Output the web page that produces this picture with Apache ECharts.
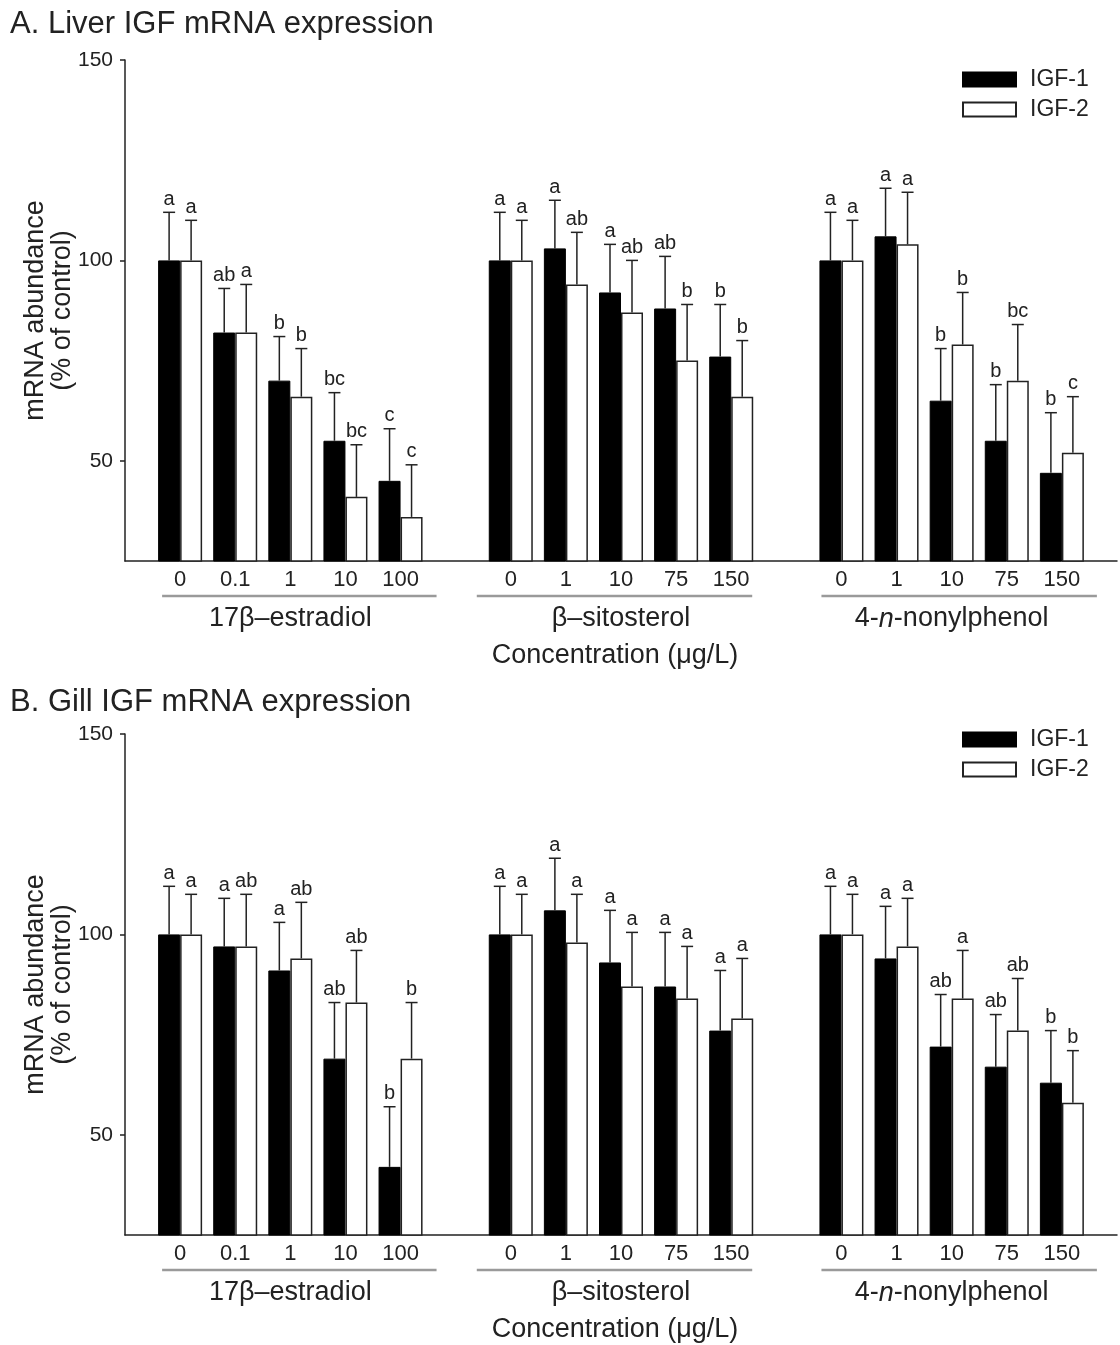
<!DOCTYPE html>
<html>
<head>
<meta charset="utf-8">
<script src="https://cdn.jsdelivr.net/npm/echarts@6/dist/echarts.min.js"></script>
<style>
html,body{margin:0;padding:0;background:#fff;}
#chart{width:1120px;height:1345px;}
</style>
</head>
<body>
<div id="chart"></div>
<script>
// ---------------- DATA ----------------
const estradiolDoses = ['0', '0.1', '1', '10', '100'];
const sitosterolDoses = ['0', '1', '10', '75', '150'];
const nonylphenolDoses = ['0', '1', '10', '75', '150'];
const compoundNames = ['17β–estradiol', 'β–sitosterol', '4-{i|n}-nonylphenol'];
const seriesNames = ['IGF-1', 'IGF-2'];
const yTickValues = [50, 100, 150];

// A. Liver
const liverIGF1 = [100, 82, 70, 55, 45, 100, 103, 92, 88, 76, 100, 106, 65, 55, 47];
const liverIGF1Err = [12, 11, 11, 12, 13, 12, 12, 12, 13, 13, 12, 12, 13, 14, 15];
const liverIGF1Letters = ['a', 'ab', 'b', 'bc', 'c', 'a', 'a', 'a', 'ab', 'b', 'a', 'a', 'b', 'b', 'b'];
const liverIGF2 = [100, 82, 66, 41, 36, 100, 94, 87, 75, 66, 100, 104, 79, 70, 52];
const liverIGF2Err = [10, 12, 12, 13, 13, 10, 13, 13, 14, 14, 10, 13, 13, 14, 14];
const liverIGF2Letters = ['a', 'a', 'b', 'bc', 'c', 'a', 'ab', 'ab', 'b', 'b', 'a', 'a', 'b', 'bc', 'c'];

// B. Gill
const gillIGF1 = [100, 97, 91, 69, 42, 100, 106, 93, 87, 76, 100, 94, 72, 67, 63];
const gillIGF1Err = [12, 12, 12, 14, 15, 12, 13, 13, 13.5, 15, 12, 13, 13, 13, 13];
const gillIGF1Letters = ['a', 'a', 'a', 'ab', 'b', 'a', 'a', 'a', 'a', 'a', 'a', 'a', 'ab', 'ab', 'b'];
const gillIGF2 = [100, 97, 94, 83, 69, 100, 98, 87, 84, 79, 100, 97, 84, 76, 58];
const gillIGF2Err = [10, 13, 14, 13, 14, 10, 12, 13.5, 13, 15, 10, 12, 12, 13, 13];
const gillIGF2Letters = ['a', 'ab', 'ab', 'ab', 'b', 'a', 'a', 'a', 'a', 'a', 'a', 'a', 'a', 'ab', 'b'];

const panelTitles = ['A. Liver IGF mRNA expression', 'B. Gill IGF mRNA expression'];
const yAxisName = 'mRNA abundance\n(% of control)';
const xAxisTitle = 'Concentration (μg/L)';

// ---------------- BUILD ----------------
const FONT = '"Liberation Sans", Arial, Helvetica, sans-serif';
const INK = '#222';
const groups = [estradiolDoses, sitosterolDoses, nonylphenolDoses];
const categories = [''];
const positions = [];
const groupIdx = [];
groups.forEach(g => {
  const idx = [];
  g.forEach(d => { positions.push(categories.length); idx.push(categories.length); categories.push(d); });
  groupIdx.push(idx);
  categories.push('');
});

function toBarData(vals) {
  const arr = categories.map(() => null);
  positions.forEach((p, k) => { arr[p] = vals[k]; });
  return arr;
}
function toErrData(vals, errs) {
  return positions.map((p, k) => [p, vals[k], errs[k]]);
}

const BAR_W = 22;
const gridTops = [60, 734];
const titleTops = [4, 682];
const legendTops = [63, 723];
const gridH = 501;
const gridLeft = 125;
const gridW = 999;

const panels = [
  { i1: liverIGF1, e1: liverIGF1Err, l1: liverIGF1Letters, i2: liverIGF2, e2: liverIGF2Err, l2: liverIGF2Letters },
  { i1: gillIGF1, e1: gillIGF1Err, l1: gillIGF1Letters, i2: gillIGF2, e2: gillIGF2Err, l2: gillIGF2Letters }
];

function errRender(letters, offset) {
  return function (params, api) {
    const base = api.coord([api.value(0), api.value(1)]);
    const top = api.coord([api.value(0), api.value(1) + api.value(2)]);
    const cx = base[0] + offset;
    return {
      type: 'group',
      children: [
        { type: 'line', shape: { x1: cx, y1: base[1], x2: cx, y2: top[1] }, style: { stroke: INK, lineWidth: 1.5 } },
        { type: 'line', shape: { x1: cx - 6, y1: top[1], x2: cx + 6, y2: top[1] }, style: { stroke: INK, lineWidth: 1.5 } },
        { type: 'text', x: cx, y: top[1] - 3, style: { text: letters[params.dataIndex], fontSize: 20, fontFamily: FONT, fill: INK, align: 'center', verticalAlign: 'bottom' } }
      ]
    };
  };
}

const grid = [], xAxis = [], yAxis = [], series = [], title = [], legend = [];
panels.forEach((p, gi) => {
  grid.push({ left: gridLeft, top: gridTops[gi], width: gridW, height: gridH, containLabel: false });
  xAxis.push({
    type: 'category', gridIndex: gi, data: categories, boundaryGap: false,
    axisLine: { lineStyle: { color: INK, width: 1.5 } },
    axisTick: { show: false },
    axisLabel: { interval: 0, fontSize: 22, fontFamily: FONT, color: INK, margin: 8 },
    splitLine: { show: false }
  });
  yAxis.push({
    type: 'value', gridIndex: gi, min: 25, max: 150,
    name: yAxisName, nameLocation: 'middle', nameGap: 49, nameMoveOverlap: false,
    nameTextStyle: { fontSize: 27, fontFamily: FONT, color: INK, lineHeight: 27 },
    axisLine: { show: true, lineStyle: { color: INK, width: 1.5 } },
    axisTick: { show: true, length: 5, customValues: yTickValues, lineStyle: { color: INK, width: 1.5 } },
    axisLabel: { fontSize: 21, fontFamily: FONT, color: INK, margin: 12, customValues: yTickValues },
    splitLine: { show: false }
  });
  title.push({
    text: panelTitles[gi], left: 5, top: titleTops[gi],
    textStyle: { fontSize: 31, fontWeight: 'normal', fontFamily: FONT, color: INK }
  });
  legend.push({
    data: seriesNames, orient: 'vertical', left: 957, top: legendTops[gi],
    icon: 'rect', itemWidth: 53, itemHeight: 14, itemGap: 7,
    textStyle: { fontSize: 23, fontFamily: FONT, color: INK, padding: [0, 0, 0, 9] },
    selectedMode: false
  });
  series.push({
    name: seriesNames[0], type: 'bar', xAxisIndex: gi, yAxisIndex: gi,
    data: toBarData(p.i1), barWidth: BAR_W, barGap: '0%',
    itemStyle: { color: '#000', borderColor: '#000', borderWidth: 1 },
    emphasis: { disabled: true }
  });
  series.push({
    name: seriesNames[1], type: 'bar', xAxisIndex: gi, yAxisIndex: gi,
    data: toBarData(p.i2), barWidth: BAR_W, barGap: '0%',
    itemStyle: { color: '#fff', borderColor: '#222', borderWidth: 1.5 },
    emphasis: { disabled: true }
  });
  series.push({
    type: 'custom', xAxisIndex: gi, yAxisIndex: gi, clip: false, z: 5,
    data: toErrData(p.i1, p.e1), renderItem: errRender(p.l1, -BAR_W / 2), silent: true
  });
  series.push({
    type: 'custom', xAxisIndex: gi, yAxisIndex: gi, clip: false, z: 5,
    data: toErrData(p.i2, p.e2), renderItem: errRender(p.l2, BAR_W / 2), silent: true
  });
});

const chart = echarts.init(document.getElementById('chart'), null, { renderer: 'canvas' });
chart.setOption({ animation: false, backgroundColor: '#fff', title, legend, grid, xAxis, yAxis, series });

// group underline + group names + axis title, positioned from the axis scale
const lineExt = [[-18, 36], [-34, 21], [-20, 35]];
const graphics = [];
panels.forEach((p, gi) => {
  const axisY = gridTops[gi] + gridH;
  groupIdx.forEach((idx, k) => {
    const xa = chart.convertToPixel({ xAxisIndex: gi }, idx[0]);
    const xb = chart.convertToPixel({ xAxisIndex: gi }, idx[idx.length - 1]);
    graphics.push({
      type: 'line', shape: { x1: xa + lineExt[k][0], y1: axisY + 35, x2: xb + lineExt[k][1], y2: axisY + 35 },
      style: { stroke: '#9a9a9a', lineWidth: 2.5 }, silent: true
    });
    graphics.push({
      type: 'text', x: (xa + xb) / 2, y: axisY + 58,
      style: {
        text: compoundNames[k], fontSize: 27, fontFamily: FONT, fill: INK, align: 'center', verticalAlign: 'middle',
        rich: { i: { fontStyle: 'italic', fontSize: 27, fontFamily: FONT, fill: INK } }
      }, silent: true
    });
    if (k === 1) {
      graphics.push({
        type: 'text', x: (xa + xb) / 2 - 6, y: axisY + 95,
        style: { text: xAxisTitle, fontSize: 27, fontFamily: FONT, fill: INK, align: 'center', verticalAlign: 'middle' },
        silent: true
      });
    }
  });
});
chart.setOption({ graphic: graphics });
</script>
</body>
</html>
